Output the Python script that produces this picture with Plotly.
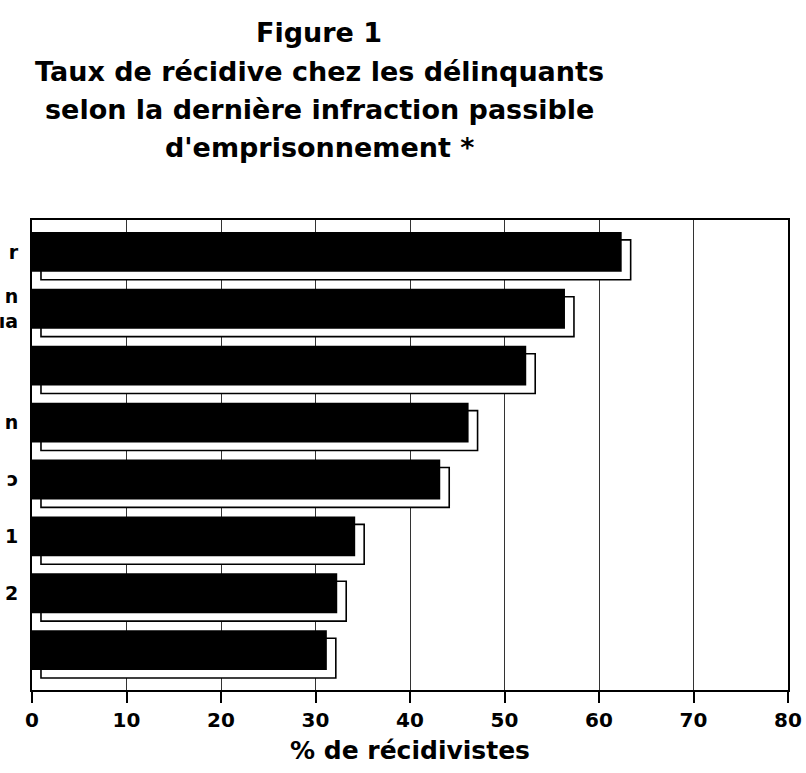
import plotly.graph_objects as go

# Category labels (only the right-hand fragments are visible in the scan)
categories = ["r", "n<br>ıa", " ", "n", "ɔ", "1", "2", "  "]
recidivism = [62.4, 56.4, 52.3, 46.2, 43.2, 34.2, 32.3, 31.2]
x_ticks = [0, 10, 20, 30, 40, 50, 60, 70, 80]
title_lines = ["Figure 1",
               "Taux de récidive chez les délinquants",
               "selon la dernière infraction passible",
               "d'emprisonnement *"]

FONT = "DejaVu Sans, Liberation Sans, Arial, sans-serif"

n = len(categories)
pos = list(range(n))
depth_x = 0.95   # 3D extrusion depth (data units)
depth_y = 0.14
bar_w = 0.70

fig = go.Figure()
# back (extruded) face: white with black outline
fig.add_trace(go.Bar(
    y=[p + depth_y for p in pos], x=recidivism, base=depth_x, orientation="h",
    width=bar_w, marker=dict(color="white", line=dict(color="black", width=1.6)),
    hoverinfo="skip", showlegend=False))
# front face: solid black
fig.add_trace(go.Bar(
    y=pos, x=recidivism, orientation="h", width=bar_w,
    marker=dict(color="black", line=dict(color="black", width=0)),
    showlegend=False))

# title lines as separate annotations (to control line spacing)
for i, line in enumerate(title_lines):
    fig.add_annotation(
        text=line, xref="paper", yref="paper",
        x=0.380, y=1.398 - i * 0.0815, xanchor="center", yanchor="middle",
        showarrow=False,
        font=dict(size=27, family=FONT, color="black", weight="bold"))

fig.update_layout(
    width=806, height=773,
    margin=dict(l=32, r=18, t=220, b=83),
    paper_bgcolor="white", plot_bgcolor="white",
    barmode="overlay",
    font=dict(family=FONT, color="black"),
    xaxis=dict(
        range=[0, 80], tickvals=x_ticks, ticktext=[str(t) for t in x_ticks],
        showgrid=True, gridcolor="#333", gridwidth=1.2,
        showline=True, linecolor="black", linewidth=2, mirror=True,
        ticks="outside", ticklen=11, tickcolor="black", tickwidth=2,
        tickfont=dict(size=20, family=FONT, weight="bold"),
        title=dict(text="% de récidivistes", standoff=10,
                   font=dict(size=25, family=FONT, weight="bold")),
        zeroline=False, automargin=False,
    ),
    yaxis=dict(
        range=[n - 1 + 0.70, -0.56], tickvals=pos, ticktext=categories,
        showgrid=False, zeroline=False,
        showline=True, linecolor="black", linewidth=2, mirror=True,
        ticks="", ticklabelstandoff=8,
        tickfont=dict(size=19, family=FONT, weight="bold"),
        automargin=False,
    ),
)

fig.write_html("out.html",
               config={"displayModeBar": False},
               post_script="document.body.style.margin='0';document.body.style.overflow='hidden';")
